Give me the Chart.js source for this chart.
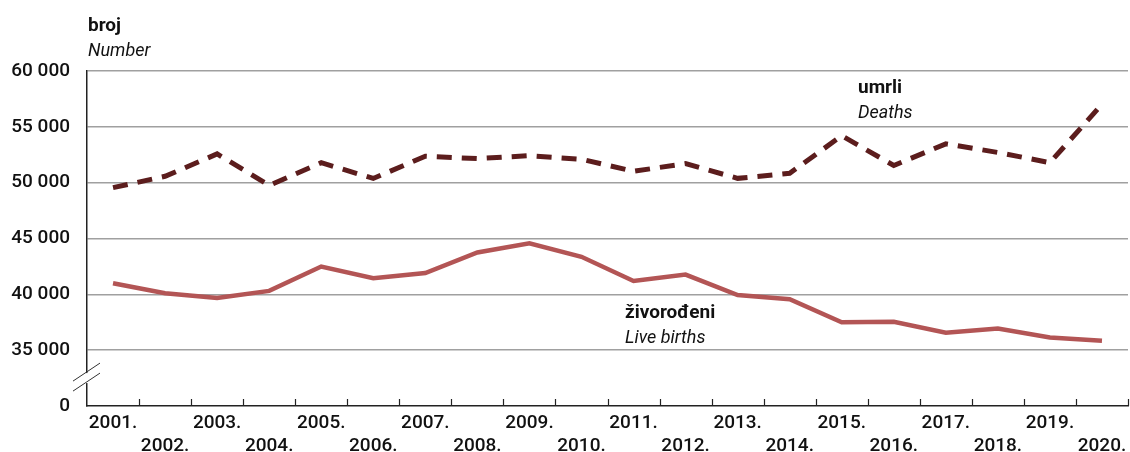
<!DOCTYPE html>
<html>
<head>
<meta charset="utf-8">
<script src="https://cdn.jsdelivr.net/npm/chart.js@4"></script>
<style>
  html, body { margin: 0; padding: 0; background: #fff; }
  #wrap { position: relative; width: 1130px; height: 452px; }
</style>
</head>
<body>
<div id="wrap"><canvas id="chart" width="1130" height="452"></canvas></div>
<script>
const years = ['2001.', '2002.', '2003.', '2004.', '2005.', '2006.', '2007.', '2008.', '2009.', '2010.',
               '2011.', '2012.', '2013.', '2014.', '2015.', '2016.', '2017.', '2018.', '2019.', '2020.'];
const liveBirths = [40993, 40094, 39668, 40307, 42492, 41446, 41910, 43753, 44577, 43361,
                    41197, 41771, 39939, 39566, 37503, 37537, 36556, 36945, 36135, 35845];
const deaths = [49552, 50569, 52575, 49756, 51790, 50378, 52367, 52151, 52414, 52096,
                51019, 51710, 50386, 50839, 54205, 51542, 53477, 52706, 51794, 57023];
// 30000 is drawn as "0" below the axis break
const yBreakValue = 30000;

const FONT = '"Liberation Sans Narrow", "Roboto", sans-serif';

const extras = {
    id: 'extras',
    afterDraw(chart) {
        const ctx = chart.ctx;
        const x = chart.scales.x, y = chart.scales.y;
        const left = chart.chartArea.left, bottom = chart.chartArea.bottom;
        ctx.save();
        // ticks on x axis pointing up
        ctx.strokeStyle = '#222';
        ctx.lineWidth = 1.2;
        const step = (x.right - x.left) / years.length;
        for (let i = 1; i <= years.length; i++) {
            const px = Math.round(x.left + i * step) + 0.5;
            ctx.beginPath();
            ctx.moveTo(px, bottom);
            ctx.lineTo(px, bottom - 7);
            ctx.stroke();
        }
        // axis break
        const by = (y.getPixelForValue(35000) + bottom) / 2;
        ctx.fillStyle = '#fff';
        ctx.fillRect(left - 2, by - 5, 4, 10);
        ctx.strokeStyle = '#333';
        ctx.lineWidth = 1;
        [-5, 5].forEach(d => {
            ctx.beginPath();
            ctx.moveTo(left - 14, by + d + 8);
            ctx.lineTo(left + 13, by + d - 10);
            ctx.stroke();
        });
        // texts
        ctx.fillStyle = '#111';
        ctx.textBaseline = 'alphabetic';
        ctx.textAlign = 'left';
        const label = (t1, t2, px, py) => {
            ctx.font = 'bold 19px ' + FONT;
            ctx.fillText(t1, px, py);
            ctx.font = 'italic 18px ' + FONT;
            ctx.fillText(t2, px, py + 25);
        };
        label('broj', 'Number', 88, 31);
        label('umrli', 'Deaths', 858, 93);
        label('živorođeni', 'Live births', 625, 318);
        ctx.restore();
    }
};

new Chart(document.getElementById('chart'), {
    type: 'line',
    data: {
        labels: years,
        datasets: [
            {
                label: 'umrli',
                data: deaths,
                borderColor: '#5c1d1d',
                borderWidth: 5,
                borderDash: [15, 10],
                pointRadius: 0,
                tension: 0
            },
            {
                label: 'živorođeni',
                data: liveBirths,
                borderColor: '#b35555',
                borderWidth: 4.5,
                pointRadius: 0,
                tension: 0
            }
        ]
    },
    options: {
        responsive: false,
        animation: false,
        layout: { padding: { top: 71, right: 2, left: 0, bottom: 0 } },
        plugins: { legend: { display: false }, tooltip: { enabled: false } },
        scales: {
            x: {
                offset: true,
                grid: { display: false, offset: true },
                border: { color: '#222', width: 1.5 },
                afterFit: s => { s.height = 46; },
                ticks: {
                    autoSkip: false,
                    maxRotation: 0,
                    padding: -2,
                    color: '#111',
                    font: { family: FONT, size: 19, weight: 500, lineHeight: 1.2 },
                    callback: (v, i) => i % 2 === 0 ? years[i] : ['', years[i]]
                }
            },
            y: {
                min: yBreakValue,
                max: 60000,
                afterFit: s => { s.width = 87; },
                grid: {
                    color: ctx => ctx.tick && ctx.tick.value === yBreakValue ? 'rgba(0,0,0,0)' : '#a0a0a0',
                    lineWidth: 1.5,
                    drawTicks: false
                },
                border: { color: '#222', width: 1.5 },
                ticks: {
                    stepSize: 5000,
                    padding: 17,
                    color: '#111',
                    font: { family: FONT, size: 19, weight: 500 },
                    callback: v => v === yBreakValue ? '0' : String(v).replace(/\B(?=(\d{3})+(?!\d))/g, ' ')
                }
            }
        }
    },
    plugins: [extras]
});
</script>
</body>
</html>
